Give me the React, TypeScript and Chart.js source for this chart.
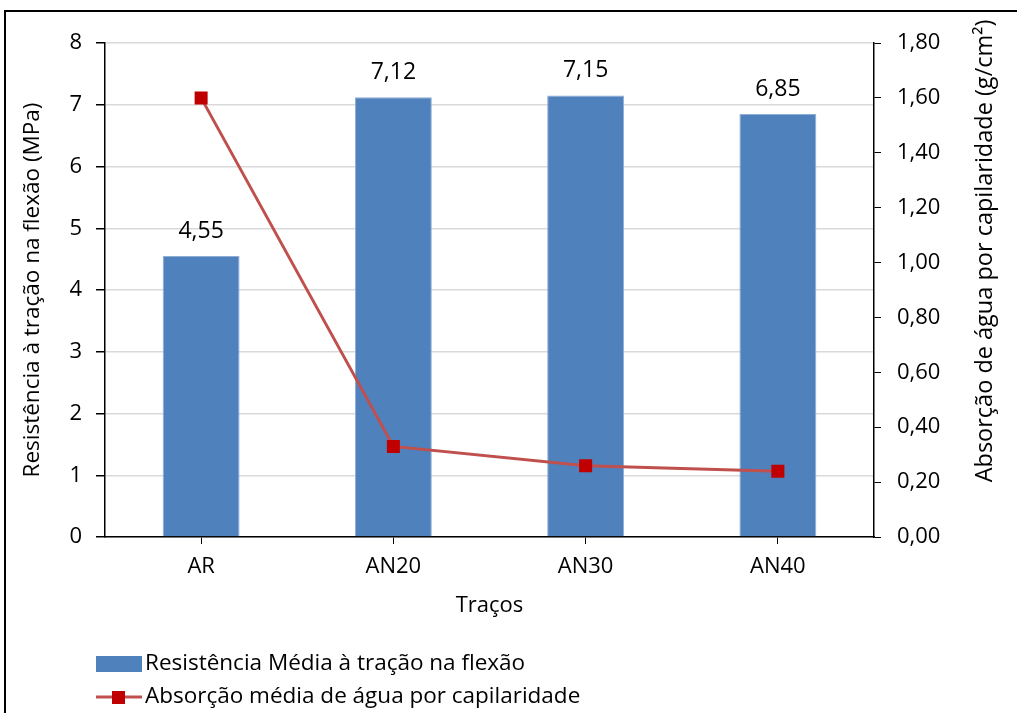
import React, { useEffect, useRef } from 'react';
import { Chart, registerables } from 'chart.js';

Chart.register(...registerables);

const categories = ['AR', 'AN20', 'AN30', 'AN40'];
const resistencia = [4.55, 7.12, 7.15, 6.85];
const absorcao = [1.6, 0.33, 0.26, 0.24];
const barLabel = 'Resistência Média à tração na flexão';
const lineLabel = 'Absorção média de água por capilaridade';
const leftTitle = 'Resistência à tração na flexão (MPa)';
const rightTitle = 'Absorção de água por capilaridade (g/cm²)';
const xTitle = 'Traços';

const FONT = '"Open Sans"';
const fmt = (v: number, d: number) => v.toFixed(d).replace('.', ',');

const extras = {
  id: 'extras',
  afterDatasetsDraw(chart: any) {
    const ctx = chart.ctx;
    const meta = chart.getDatasetMeta(0);
    ctx.save();
    ctx.font = `23px ${FONT}`;
    ctx.fillStyle = '#000';
    ctx.textAlign = 'center';
    ctx.textBaseline = 'alphabetic';
    meta.data.forEach((el: any, i: number) => {
      ctx.fillText(fmt(resistencia[i], 2), el.x, el.y - 18);
    });
    ctx.restore();
  },
  afterDraw(chart: any) {
    const ctx = chart.ctx;
    ctx.save();
    // frame
    ctx.strokeStyle = '#000';
    ctx.lineWidth = 2;
    ctx.strokeRect(5, 11, chart.width + 10, chart.height + 10);
    // right axis title (reads bottom to top)
    ctx.save();
    ctx.translate(985, 251);
    ctx.rotate(-Math.PI / 2);
    ctx.font = `23.5px ${FONT}`;
    ctx.fillStyle = '#000';
    ctx.textAlign = 'center';
    ctx.textBaseline = 'middle';
    ctx.fillText(rightTitle, 0, 0);
    ctx.restore();
    // legend
    const bar = chart.data.datasets[0];
    const line = chart.data.datasets[1];
    ctx.fillStyle = bar.backgroundColor;
    ctx.fillRect(96, 656, 46, 16);
    ctx.strokeStyle = line.borderColor;
    ctx.lineWidth = 3;
    ctx.beginPath();
    ctx.moveTo(96, 697);
    ctx.lineTo(142, 697);
    ctx.stroke();
    ctx.fillStyle = line.pointBackgroundColor;
    ctx.fillRect(112, 691, 13, 13);
    ctx.fillStyle = '#000';
    ctx.font = `22.5px ${FONT}`;
    ctx.textAlign = 'left';
    ctx.textBaseline = 'middle';
    ctx.fillText(bar.label, 145, 664);
    ctx.fillText(line.label, 145, 697);
    ctx.restore();
  },
};

export default function App() {
  const ref = useRef<HTMLCanvasElement>(null);
  useEffect(() => {
    const chart = new Chart(ref.current!, {
      type: 'bar',
      data: {
        labels: categories,
        datasets: [
          {
            type: 'bar',
            label: barLabel,
            data: resistencia,
            backgroundColor: '#4F81BD',
            borderColor: '#8EAED6',
            borderWidth: 1,
            barPercentage: 0.4,
            categoryPercentage: 1,
            yAxisID: 'y',
            order: 1,
          },
          {
            type: 'line',
            label: lineLabel,
            data: absorcao,
            borderColor: '#C0504D',
            borderWidth: 3,
            pointStyle: 'rect',
            pointRadius: 9.2,
            pointBackgroundColor: '#C00000',
            pointBorderColor: '#C00000',
            pointBorderWidth: 0,
            yAxisID: 'y1',
            order: 0,
          } as any,
        ],
      },
      options: {
        animation: false,
        responsive: false,
        layout: { padding: { left: 0, right: 0, top: 43, bottom: 76 } },
        plugins: { legend: { display: false }, tooltip: { enabled: false }, title: { display: false } },
        scales: {
          x: {
            offset: true,
            grid: { offset: false, drawOnChartArea: false, tickLength: 7, color: '#000', lineWidth: 1 },
            border: { color: '#000', width: 1.5 },
            ticks: { font: { family: FONT, size: 22 }, color: '#000', padding: 10 },
            title: { display: true, text: xTitle, font: { family: FONT, size: 22 }, color: '#000', padding: { top: 0, bottom: 18 } },
            afterFit(s: any) { s.height = 100; },
          },
          y: {
            position: 'left',
            min: 0,
            max: 8,
            ticks: { stepSize: 1, font: { family: FONT, size: 22 }, color: '#000', padding: 14 },
            grid: { color: '#D9D9D9', lineWidth: 1.5, tickLength: 9, tickColor: '#000' },
            border: { color: '#000', width: 1.5 },
            title: { display: true, text: leftTitle, font: { family: FONT, size: 22.5 }, color: '#000', padding: { top: 19, bottom: 0 } },
            afterFit(s: any) { s.width = 105; },
          },
          y1: {
            position: 'right',
            min: 0,
            max: 1.8,
            ticks: { stepSize: 0.2, font: { family: FONT, size: 22 }, color: '#000', padding: 16, callback: (v: any) => fmt(Number(v), 2) },
            grid: { drawOnChartArea: false, tickLength: 7, color: '#000' },
            border: { color: '#000', width: 1.5 },
            title: { display: false },
            afterFit(s: any) { s.width = 143; },
          },
        },
      },
      plugins: [extras],
    });
    return () => chart.destroy();
  }, []);
  return (
    <div style={{ position: 'fixed', left: 0, top: 0, width: 1017, height: 713, background: '#fff' }}>
      <canvas ref={ref} width={1017} height={713} style={{ width: 1017, height: 713 }} />
    </div>
  );
}
